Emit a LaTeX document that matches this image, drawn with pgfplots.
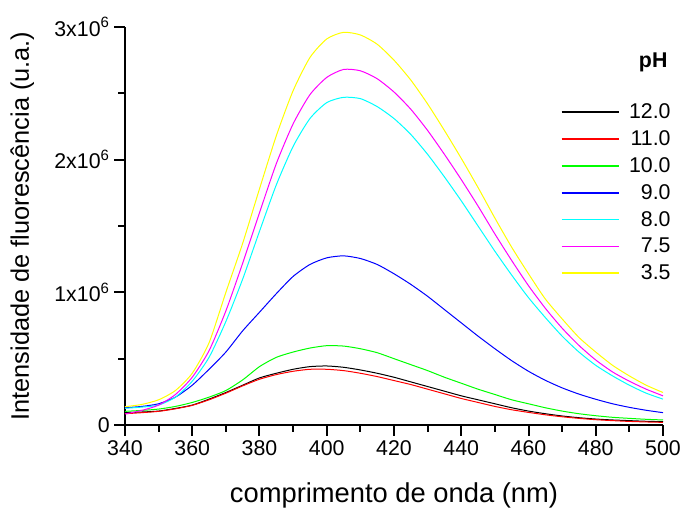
\documentclass[border=0pt]{standalone}
\usepackage{fontspec}
\setmainfont{Liberation Sans}
\usepackage{pgfplots}
\pgfplotsset{compat=1.18}
\usepackage{pgfplotstable}

\pgfplotstableread{
x y12 y11 y10 y9 y8 y75 y35
340 0.093 0.085 0.103 0.130 0.126 0.083 0.138
345 0.098 0.093 0.110 0.140 0.135 0.110 0.155
350 0.105 0.103 0.120 0.160 0.150 0.150 0.190
355 0.125 0.122 0.140 0.210 0.210 0.230 0.260
360 0.150 0.148 0.170 0.300 0.330 0.360 0.390
365 0.195 0.190 0.210 0.420 0.510 0.560 0.620
370 0.245 0.240 0.260 0.550 0.780 0.860 1.000
375 0.300 0.295 0.340 0.710 1.100 1.220 1.370
380 0.355 0.345 0.440 0.850 1.460 1.600 1.780
385 0.390 0.380 0.510 0.990 1.810 1.970 2.180
390 0.420 0.405 0.550 1.120 2.100 2.270 2.520
395 0.440 0.420 0.580 1.210 2.310 2.490 2.770
400 0.445 0.420 0.598 1.260 2.430 2.620 2.910
405 0.435 0.410 0.595 1.275 2.470 2.680 2.960
410 0.415 0.390 0.575 1.255 2.460 2.670 2.940
415 0.390 0.365 0.545 1.210 2.400 2.610 2.870
420 0.360 0.335 0.500 1.140 2.310 2.510 2.750
425 0.325 0.305 0.455 1.060 2.190 2.380 2.600
430 0.290 0.270 0.410 0.970 2.040 2.220 2.420
435 0.255 0.235 0.360 0.870 1.870 2.040 2.220
440 0.220 0.200 0.315 0.770 1.690 1.850 2.010
445 0.190 0.170 0.270 0.670 1.500 1.650 1.790
450 0.160 0.140 0.230 0.575 1.310 1.440 1.560
455 0.130 0.115 0.190 0.485 1.130 1.240 1.340
460 0.105 0.095 0.160 0.405 0.960 1.050 1.140
465 0.085 0.077 0.130 0.337 0.810 0.880 0.950
470 0.068 0.062 0.105 0.280 0.670 0.730 0.800
475 0.055 0.050 0.085 0.233 0.550 0.600 0.660
480 0.045 0.040 0.070 0.194 0.450 0.490 0.550
485 0.038 0.033 0.058 0.160 0.370 0.400 0.450
490 0.033 0.027 0.050 0.133 0.300 0.330 0.370
495 0.028 0.023 0.043 0.111 0.240 0.270 0.300
500 0.025 0.020 0.038 0.093 0.195 0.220 0.245
}\datatable

\definecolor{cRed}{RGB}{255,0,0}
\definecolor{cGreen}{RGB}{0,255,0}
\definecolor{cBlue}{RGB}{0,0,255}
\definecolor{cCyan}{RGB}{0,255,255}
\definecolor{cMag}{RGB}{255,0,255}
\definecolor{cYel}{RGB}{255,255,0}

\begin{document}
\begin{tikzpicture}
\begin{axis}[
  at={(0,0)}, anchor=south west,
  scale only axis,
  width=403.5pt, height=298.5pt,
  xmin=340, xmax=500, ymin=0, ymax=3,
  clip mode=individual,
  axis lines=left,
  axis line style={-, line width=1.5pt},
  tick style={line width=1.5pt, black},
  tick align=outside,
  major tick length=8pt, minor tick length=5pt,
  xtick={340,360,...,500},
  minor x tick num=1,
  ytick={0,1,2,3},
  yticklabels={0,1x10\textsuperscript{6},2x10\textsuperscript{6},3x10\textsuperscript{6}},
  minor y tick num=1,
  /pgf/number format/assume math mode=true,
  /pgf/number format/1000 sep={},
  tick label style={font=\fontsize{16}{19}\selectfont},
  xlabel={comprimento de onda (nm)},
  ylabel={Intensidade de fluorescência (u.a.)},
  xlabel style={font=\fontsize{20.5}{24}\selectfont, at={(axis description cs:0.5,-0.176)}, anchor=center},
  ylabel style={font=\fontsize{19}{22}\selectfont, at={(axis description cs:-0.191,0.5)}, anchor=center},
  legend style={draw=none, fill=none, at={(axis description cs:1.0195,0.815)}, anchor=north east,
    font=\fontsize{16}{19}\selectfont, row sep=3.5pt, inner sep=0pt,
    /tikz/every odd column/.append style={column sep=5pt}},
  legend cell align=right,
  legend image code/.code={\draw[#1, line width=1.2pt] (0pt,0pt) -- (43pt,0pt);},
  every axis plot/.append style={line width=0.75pt, smooth, tension=0.4},
]
\addplot[black] table[x=x, y=y12] {\datatable};
\addlegendentry{12.0}
\addplot[cRed] table[x=x, y=y11] {\datatable};
\addlegendentry{11.0}
\addplot[cGreen] table[x=x, y=y10] {\datatable};
\addlegendentry{10.0}
\addplot[cBlue] table[x=x, y=y9] {\datatable};
\addlegendentry{9.0}
\addplot[cCyan] table[x=x, y=y8] {\datatable};
\addlegendentry{8.0}
\addplot[cMag] table[x=x, y=y75] {\datatable};
\addlegendentry{7.5}
\addplot[cYel] table[x=x, y=y35] {\datatable};
\addlegendentry{3.5}
\node[anchor=east, font=\fontsize{16}{19}\selectfont\bfseries] at (axis description cs:1.017,0.912) {pH};
\end{axis}
\pgfresetboundingbox
\path (-93.75pt,-62.25pt) rectangle (417.75pt,318.75pt);
\end{tikzpicture}
\end{document}
